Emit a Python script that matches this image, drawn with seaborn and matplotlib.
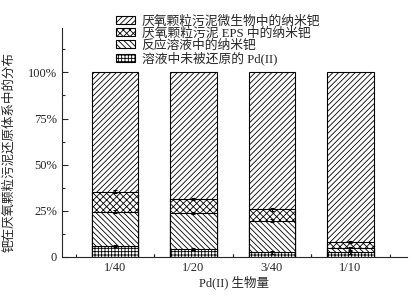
import matplotlib
matplotlib.use("Agg")
import matplotlib.pyplot as plt
import seaborn as sns
import numpy as np
import pandas as pd
from matplotlib.patches import Patch
from matplotlib.ticker import MultipleLocator, FuncFormatter

categories = ["1/40", "1/20", "3/40", "1/10"]
unreduced = [6.0, 4.3, 2.5, 2.5]       # 溶液中未被还原的Pd(II)
solution = [18.5, 19.3, 17.0, 2.2]     # 反应溶液中的纳米钯
eps = [10.8, 7.6, 6.3, 3.4]            # 厌氧颗粒污泥EPS中的纳米钯
microbe = [64.7, 68.8, 74.2, 91.9]     # 厌氧颗粒污泥微生物中的纳米钯
err_unreduced = [0.5, 0.5, 0.8, 0.8]
err_solution = [0.8, 0.6, 0.8, 0.8]
err_eps = [0.8, 0.6, 0.8, 0.8]

labels = ["厌氧颗粒污泥微生物中的纳米钯", "厌氧颗粒污泥 EPS 中的纳米钯",
          "反应溶液中的纳米钯", "溶液中未被还原的 Pd(II)"]
hatches = ["//////", "xxxxx", "\\\\\\\\\\\\", "+++++"]

sns.set_style("ticks")
plt.rcParams["font.family"] = ["Liberation Serif", "Noto Sans CJK SC"]
plt.rcParams["hatch.linewidth"] = 0.6

c1 = np.array(unreduced)
c2 = c1 + np.array(solution)
c3 = c2 + np.array(eps)
c4 = c3 + np.array(microbe)

df = pd.DataFrame({"cat": categories, "c1": c1, "c2": c2, "c3": c3, "c4": c4})

fig = plt.figure(figsize=(4.19, 2.96), dpi=100)
ax = fig.add_axes([0.148, 0.132, 0.823, 0.773])

for col, h in zip(["c4", "c3", "c2", "c1"], hatches):
    sns.barplot(data=df, x="cat", y=col, ax=ax, color="white", edgecolor="black",
                linewidth=0.8, hatch=h, width=0.59, errorbar=None, order=categories)

x = np.arange(len(categories))
for tops, errs in [(c1, err_unreduced), (c2, err_solution), (c3, err_eps)]:
    ax.errorbar(x, tops, yerr=errs, fmt="none", ecolor="black", elinewidth=0.8,
                capsize=1.5, capthick=0.8, zorder=5)

ax.set_xlim(-0.675, 3.72)
ax.set_ylim(0, 124)
ax.yaxis.set_minor_locator(MultipleLocator(12.5))
ax.set_yticks([0, 25, 50, 75, 100])
ax.yaxis.set_major_formatter(FuncFormatter(lambda v, p: "0" if v == 0 else f"{int(v)}%"))
ax.set_xticks(x)
ax.set_xticks(list(x - 0.5) + list(x + 0.5), minor=True)
ax.tick_params(which="major", direction="in", length=4, width=0.8, labelsize=9)
ax.tick_params(which="minor", direction="in", length=2.5, width=0.8)
ax.set_xticklabels(categories)
for s in ["top", "right"]:
    ax.spines[s].set_visible(False)
for s in ["left", "bottom"]:
    ax.spines[s].set_linewidth(0.8)

ax.set_xlabel("Pd(II) 生物量", fontsize=9, labelpad=1)
ax.set_ylabel("钯在厌氧颗粒污泥还原体系中的分布", fontsize=9)
ax.yaxis.set_label_coords(-0.136, 0.458)

handles = [Patch(facecolor="white", edgecolor="black", hatch=h, linewidth=0.8) for h in hatches]
fig.legend(handles, labels, loc="upper left", bbox_to_anchor=(0.277, 0.948),
           frameon=False, fontsize=9.2, handlelength=1.5, handleheight=0.6,
           handletextpad=0.5, labelspacing=-0.02, borderpad=0, borderaxespad=0)

fig.savefig("out.png", dpi=100)
